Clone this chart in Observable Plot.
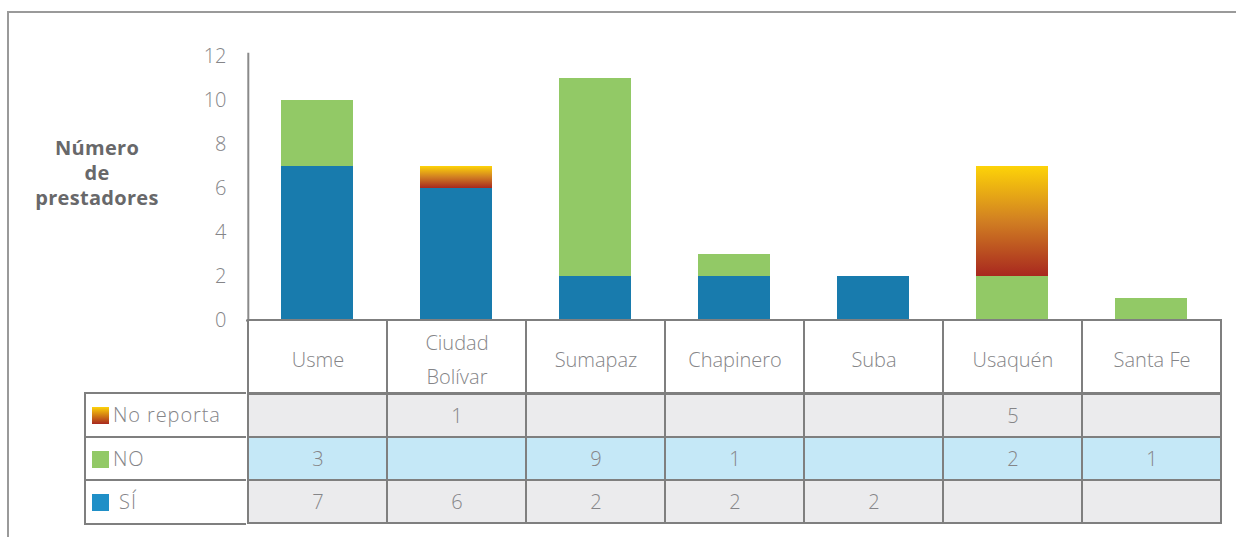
<!DOCTYPE html>
<html>
<head>
<meta charset="utf-8">
<script src="https://cdn.jsdelivr.net/npm/d3@7"></script>
<script src="https://cdn.jsdelivr.net/npm/@observablehq/plot@0.6"></script>
<style>
  html, body { margin: 0; padding: 0; background: #fff; }
  #wrap { position: relative; width: 1236px; height: 537px; overflow: hidden; font-family: "Open Sans", sans-serif; }
  #frame { position: absolute; left: 7px; top: 11px; right: -20px; bottom: -20px; border-top: 2px solid #9a9a9a; border-left: 2px solid #9a9a9a; }
  #ylabel { position: absolute; left: 17px; top: 135px; width: 160px; text-align: center; font-weight: 700; font-size: 20px; line-height: 25px; color: #68686a; letter-spacing: 0.3px; }
  .abs { position: absolute; left: 0; }
  #legend { position: absolute; left: 84px; top: 392px; width: 162px; height: 132px; }
  .lrow { position: absolute; left: 0; width: 160px; height: 41.5px; border: 2px solid #7f7f7f; border-right: none; font-size: 20px; font-weight: 300; color: #858588; white-space: nowrap; letter-spacing: 0.9px; line-height: 41.5px; }
  .sw { display: inline-block; width: 17px; height: 17px; vertical-align: -2px; margin: 0 4px 0 6px; }
</style>
</head>
<body>
<div id="wrap">
  <div id="frame"></div>
  <div id="ylabel">Número<br>de<br>prestadores</div>
  <div id="chart" class="abs" style="top:0"></div>
  <div id="header" class="abs" style="top:319px"></div>
  <div id="rows" class="abs" style="top:392px"></div>
  <div id="legend"></div>
</div>
<script>
const categories = ["Usme", "Ciudad Bolívar", "Sumapaz", "Chapinero", "Suba", "Usaquén", "Santa Fe"];
const headerLabels = ["Usme", "Ciudad\nBolívar", "Sumapaz", "Chapinero", "Suba", "Usaquén", "Santa Fe"];
const seriesNames = ["SÍ", "NO", "No reporta"];
const tableRows = ["No reporta", "NO", "SÍ"];
const siValues = [7, 6, 2, 2, 2, 0, 0];
const noValues = [3, 0, 9, 1, 0, 2, 1];
const noReportaValues = [0, 1, 0, 0, 0, 5, 0];
const yTicks = [0, 2, 4, 6, 8, 10, 12];
const seriesColors = ["#187bad", "#92c966", "url(#gradNoReporta)"];
const swatchCss = ["#1f8fc7", "#92c966", "linear-gradient(#fdd20a, #a8281f)"];
const rowFills = ["#ebebed", "#c5e8f7", "#ebebed"];

const valuesBySeries = {"SÍ": siValues, "NO": noValues, "No reporta": noReportaValues};
const data = [];
for (const s of seriesNames) categories.forEach((c, i) => data.push({category: c, series: s, value: valuesBySeries[s][i]}));

const textColor = "#858588";
const gridColor = "#7f7f7f";
const W = 1236, ML = 246, MR = 14;
const font = "'Open Sans', sans-serif";

// Bars
const chart = Plot.plot({
  width: W, height: 321,
  marginLeft: ML, marginRight: MR, marginTop: 56, marginBottom: 1,
  style: {fontFamily: font, fontSize: "20px", color: textColor, overflow: "visible"},
  x: {domain: categories, padding: 0, axis: null},
  y: {domain: [0, 12], ticks: yTicks, label: null},
  color: {domain: seriesNames, range: seriesColors},
  marks: [
    Plot.axisY({ticks: yTicks, tickSize: 0, tickPadding: 20, label: null, fill: textColor, fontWeight: 300}),
    Plot.barY(data, Plot.stackY({order: seriesNames}, {x: "category", y: "value", fill: "series", insetLeft: 33, insetRight: 34})),
    Plot.ruleX([0], {x: () => categories[0], y1: 0, y2: 12.15, dx: -69.7, stroke: "#8a8a8a", strokeWidth: 2}),
    Plot.ruleY([0], {stroke: gridColor, strokeWidth: 2})
  ]
});
const defs = d3.select(chart).insert("defs", ":first-child");
const g = defs.append("linearGradient").attr("id", "gradNoReporta").attr("x1", 0).attr("y1", 0).attr("x2", 0).attr("y2", 1);
g.append("stop").attr("offset", "0%").attr("stop-color", "#fdd308");
g.append("stop").attr("offset", "50%").attr("stop-color", "#d17f22");
g.append("stop").attr("offset", "100%").attr("stop-color", "#a8281f");
document.getElementById("chart").appendChild(chart);

// Header row (category names)
const header = Plot.plot({
  width: W, height: 75,
  marginLeft: ML, marginRight: MR, marginTop: 1, marginBottom: 1,
  style: {fontFamily: font, fontSize: "20px", overflow: "visible"},
  x: {domain: categories, padding: 0, axis: null},
  marks: [
    Plot.cell(categories, {x: d => d, fill: "white", stroke: gridColor, strokeWidth: 2}),
    Plot.text(categories, {x: d => d, text: (d, i) => headerLabels[i], frameAnchor: "middle", dy: -1, lineHeight: 1.7, fill: textColor, fontWeight: 300, letterSpacing: 1.1})
  ]
});
document.getElementById("header").appendChild(header);

// Data rows
const rows = Plot.plot({
  width: W, height: 133,
  marginLeft: ML, marginRight: MR, marginTop: 1, marginBottom: 1,
  style: {fontFamily: font, fontSize: "20px", overflow: "visible"},
  x: {domain: categories, padding: 0, axis: null},
  y: {domain: tableRows, padding: 0, axis: null},
  marks: [
    Plot.cell(data, {x: "category", y: "series", fill: d => rowFills[tableRows.indexOf(d.series)], stroke: gridColor, strokeWidth: 2}),
    Plot.text(data.filter(d => d.value > 0), {x: "category", y: "series", text: d => String(d.value), fill: textColor, fontWeight: 300, dy: 1})
  ]
});
document.getElementById("rows").appendChild(rows);

// Legend column (row labels of the data table)
const leg = d3.select("#legend");
tableRows.forEach((r, k) => {
  const i = seriesNames.indexOf(r);
  const row = leg.append("div").attr("class", "lrow").style("top", (k * 43.5) + "px");
  row.append("span").attr("class", "sw").style("background", swatchCss[i]);
  row.append("span").text((r === "SÍ" ? " " : "") + r);
});
</script>
</body>
</html>
